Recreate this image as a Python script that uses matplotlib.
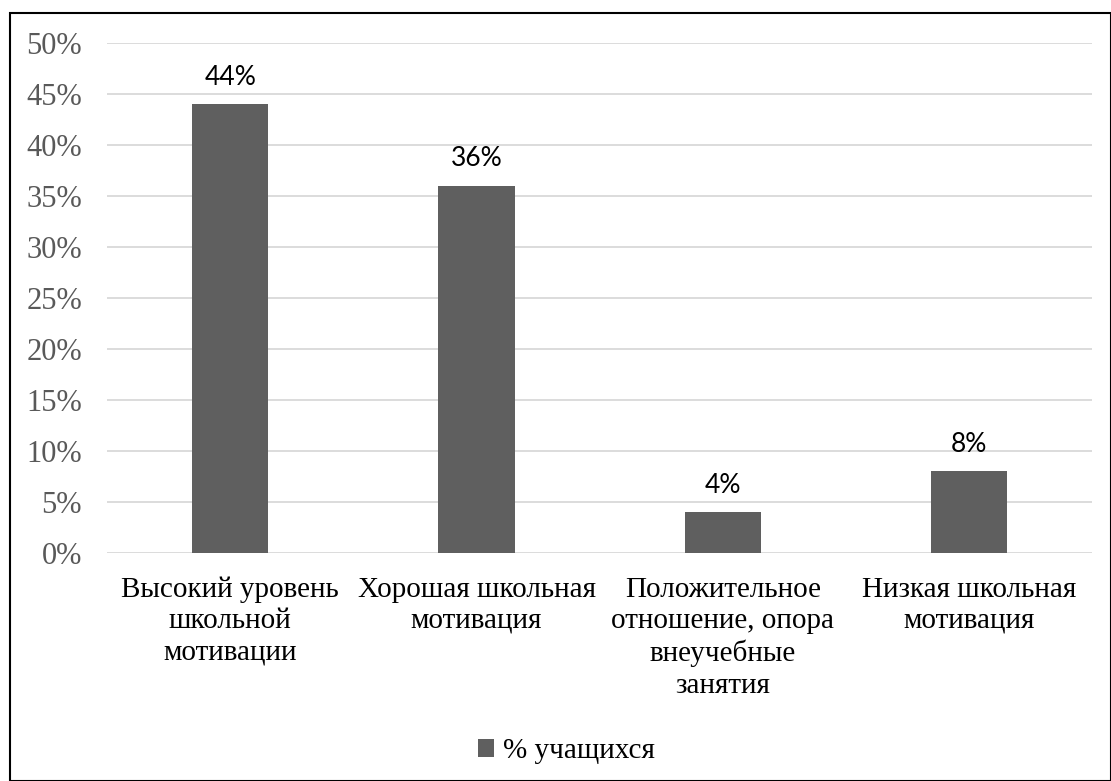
import matplotlib.pyplot as plt
from matplotlib.patches import Rectangle
from matplotlib.ticker import PercentFormatter

categories = ["Высокий уровень\nшкольной\nмотивации",
              "Хорошая школьная\nмотивация",
              "Положительное\nотношение, опора\nвнеучебные\nзанятия",
              "Низкая школьная\nмотивация"]
values = [44, 36, 4, 8]
series_name = "% учащихся"

bar_color = "#5f5f5f"

fig = plt.figure(figsize=(11.11, 7.81), dpi=100)
ax = fig.add_axes([0.0963, 0.292, 0.887, 0.653])

x = range(len(categories))
bars = ax.bar(x, values, width=0.31, color=bar_color, label=series_name, zorder=3)

for b, v in zip(bars, values):
    ax.text(b.get_x() + b.get_width() / 2, v + 1.4, f"{v}%", ha="center", va="bottom",
            fontsize=19, family="Lato", color="black")

ax.set_xlim(-0.5, len(categories) - 0.5)
ax.set_ylim(0, 50)
ax.set_yticks(range(0, 51, 5))
ax.yaxis.set_major_formatter(PercentFormatter(decimals=0))
ax.grid(axis="y", color="#d9d9d9", linewidth=1.3, zorder=0)
for s in ax.spines.values():
    s.set_visible(False)
ax.tick_params(axis="both", length=0)
ax.tick_params(axis="y", labelsize=22, labelcolor="#595959", pad=18)
ax.tick_params(axis="x", labelsize=21, labelcolor="black", pad=17)
ax.set_xticks(list(x))
ax.set_xticklabels(categories, family="Liberation Serif", linespacing=1.27)
for lbl in ax.get_yticklabels():
    lbl.set_family("Liberation Serif")

leg = fig.legend(loc="center", bbox_to_anchor=(0.51, 0.038), frameon=False,
                 prop={"family": "Liberation Serif", "size": 21},
                 handlelength=0.55, handleheight=0.55, handletextpad=0.3)

fig.patches.append(Rectangle((10 / 1111, 0), 1 - 10 / 1111, 1 - 13 / 781,
                             transform=fig.transFigure, fill=False,
                             edgecolor="black", linewidth=1.5))

fig.savefig("out.png", dpi=100)
